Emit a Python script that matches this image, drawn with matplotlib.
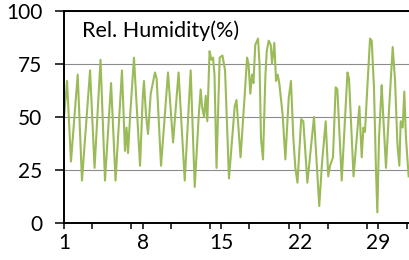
import matplotlib
matplotlib.use('Agg')
import matplotlib.pyplot as plt
from matplotlib.ticker import MultipleLocator

# day of month (fractional) and relative humidity
days = [1.00, 1.27, 1.62, 2.22, 2.60, 3.32, 3.72, 4.25, 4.65, 5.19, 5.59, 6.16,
        6.43, 6.57, 6.70, 6.88, 7.23, 7.77, 8.01, 8.12, 8.30, 8.48, 8.72, 9.10,
        9.25, 9.64, 10.26, 10.71, 11.20, 11.75, 12.28, 12.64, 13.00, 13.17, 13.29,
        13.47, 13.62, 13.76, 13.96, 14.12, 14.27, 14.40, 14.58, 14.86, 15.11, 15.34,
        15.69, 16.20, 16.36, 16.72, 17.06, 17.30, 17.43, 17.59, 17.74, 17.87, 18.03,
        18.28, 18.41, 18.54, 18.72, 18.93, 19.05, 19.23, 19.41, 19.52, 19.73, 19.88,
        20.03, 20.17, 20.47, 20.71, 21.01, 21.21, 21.42, 21.60, 21.79, 22.12, 22.31,
        22.67, 23.26, 23.48, 23.73, 23.97, 24.30, 24.53, 24.69, 24.95, 25.19, 25.34,
        25.73, 26.24, 26.38, 26.78, 27.30, 27.51, 27.66, 27.80, 28.01, 28.25, 28.40,
        28.60, 28.78, 28.90, 29.05, 29.20, 29.29, 29.43, 29.67, 29.97, 30.27, 30.48,
        30.69, 30.86, 30.98, 31.16, 31.30, 31.45, 31.69]
humidity = [50, 67, 29, 70, 20, 72, 26, 77, 20, 66, 20, 72,
            34, 45, 33, 50, 78, 27, 59, 67, 51, 42, 61, 71,
            68, 27, 71, 38, 71, 20, 72, 17, 51, 63, 55,
            50, 60, 48, 81, 77, 78, 70, 26, 78, 79, 72,
            21, 55, 58, 31, 58, 78, 75, 61, 70, 66, 84,
            87, 75, 40, 30, 69, 81, 86, 84, 75, 85, 67,
            70, 66, 51, 30, 59, 67, 40, 26, 19, 49, 48,
            19, 50, 30, 8, 28, 48, 22, 27, 31, 64, 63,
            20, 71, 68, 22, 55, 31, 45, 43, 64, 87, 86,
            64, 25, 5, 40, 56, 65, 50, 26, 56, 83, 67,
            37, 27, 48, 45, 62, 40, 22]

y_ticks = [0, 25, 50, 75, 100]
x_ticks = [1, 8, 15, 22, 29]

plt.rcParams['font.family'] = ['Lato', 'DejaVu Sans']

fig = plt.figure(figsize=(4.09, 2.6), dpi=100)
ax = fig.add_axes([0.1565, 0.1423, 0.8435, 0.8154])

ax.plot(days, humidity, color='#9bbb59', linewidth=1.5,
        solid_joinstyle='round')

ax.set_xlim(1, 31.72)
ax.set_ylim(0, 100)
ax.set_yticks(y_ticks)
ax.set_xticks(x_ticks)
ax.xaxis.set_minor_locator(MultipleLocator(3.5))
ax.yaxis.grid(True, color='#8c8c8c', linewidth=0.8)
ax.set_axisbelow(True)

for s in ['left', 'bottom', 'top']:
    ax.spines[s].set_color('black')
    ax.spines[s].set_linewidth(1.4)
ax.spines['right'].set_visible(False)

ax.tick_params(axis='y', length=6.5, width=1.1, labelsize=15, pad=9)
ax.tick_params(axis='x', which='both', length=4.5, width=1.1, labelsize=15, pad=2.5)

ax.text(0.051, 0.879, 'Rel. Humidity(%)', transform=ax.transAxes, fontsize=15.5,
        ha='left', va='baseline')

fig.savefig('out.png', dpi=100)
